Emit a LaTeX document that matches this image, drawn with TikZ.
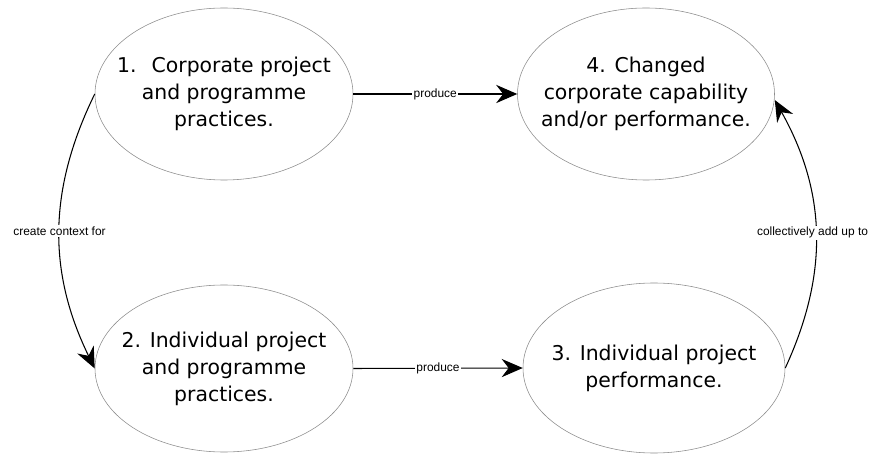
\documentclass[tikz,border=0pt]{standalone}
\usepackage{fontspec}
\setmainfont{DejaVu Sans}
\newfontfamily\labelfont{Liberation Sans}
\usetikzlibrary{shapes.geometric,arrows.meta}
\begin{document}
\begin{tikzpicture}[
		stage/.style={ellipse,draw=black!45,line width=0.4pt,inner sep=0pt},
		stagetext/.style={align=center,font=\fontsize{14.5}{19.2}\selectfont},
		link/.style={line width=0.75pt,-{Stealth[length=15pt,width=13pt,inset=5pt]}},
		linklabel/.style={fill=white,inner sep=1pt,font=\labelfont\fontsize{8.5}{10}\selectfont}]
		\useasboundingbox (0,0) rectangle (21.8,11.375);
		\node[stage,minimum width=6.45cm,minimum height=4.3cm,
			label={[stagetext]center:1.~ Corporate project\\and programme\\practices.}] (corp) at (5.6,9.025) {};
		\node[stage,minimum width=6.45cm,minimum height=4.175cm,
			label={[stagetext]center:2. Individual project\\and programme\\practices.}] (indiv) at (5.6,2.1625) {};
		\node[stage,minimum width=6.55cm,minimum height=4.25cm,
			label={[stagetext]center:3. Individual project\\performance.}] (perf) at (16.35,2.175) {};
		\node[stage,minimum width=6.425cm,minimum height=4.3cm,
			label={[stagetext]center:4. Changed\\corporate capability\\and/or performance.}] (change) at (16.15,9.025) {};
		\draw[link] (corp.east) -- node[linklabel]{produce} (change.west);
		\draw[link] (indiv.east) -- node[linklabel]{produce} (perf.west);
		\draw[link] (corp.west) to[bend right=26] node[linklabel]{create context for} (indiv.west);
		\draw[link] (perf.east) to[bend right=27] node[linklabel,xshift=-0.08cm]{collectively add up to} ([yshift=-0.15cm]change.east);
	    \end{tikzpicture}
\end{document}
